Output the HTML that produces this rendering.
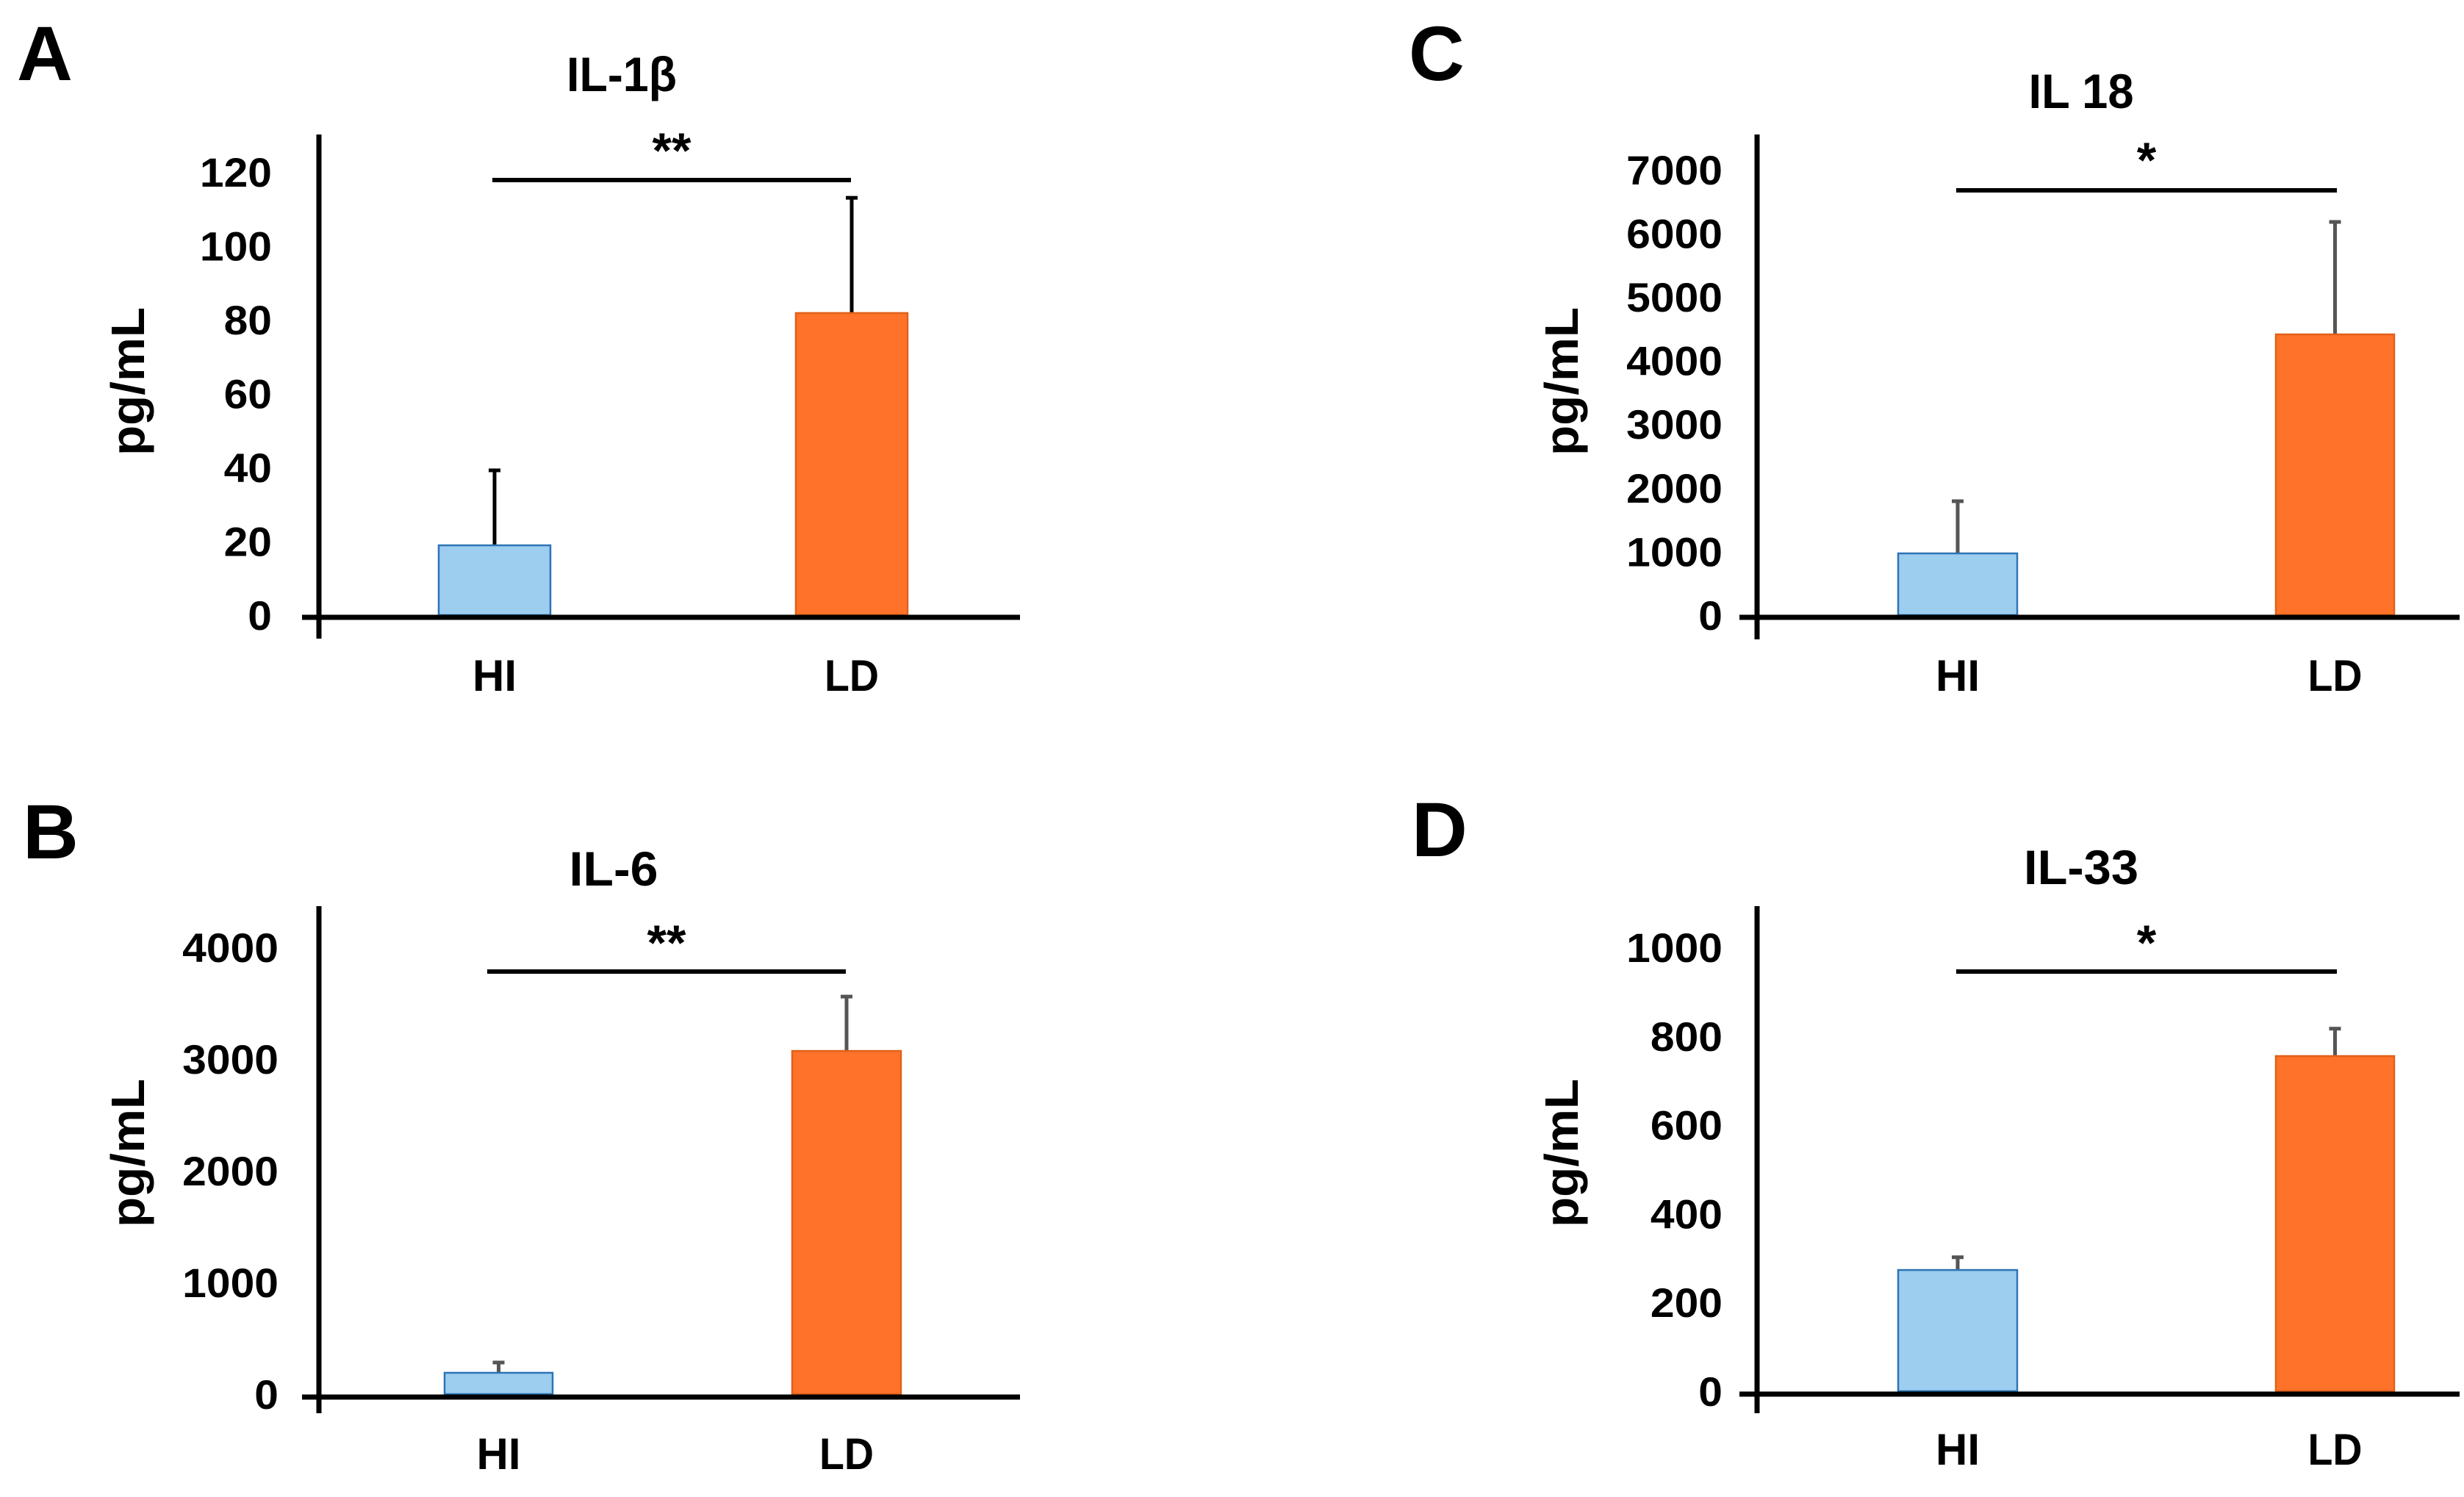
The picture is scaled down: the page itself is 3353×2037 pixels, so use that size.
<!DOCTYPE html>
<html><head><meta charset="utf-8"><style>
html,body{margin:0;padding:0;background:#fff;}
svg{display:block;font-family:"Liberation Sans",Arial,sans-serif;font-weight:bold;}
</style></head>
<body>
<svg id="fig" width="3353" height="2037" viewBox="0 0 3353 2037" xmlns="http://www.w3.org/2000/svg"></svg>
<script>
const categories = ["HI", "LD"];
const il1bValues = [18.9, 81.8];
const il1bErrors = [20.7, 31.6];
const il1bTicks = [0, 20, 40, 60, 80, 100, 120];
const il6Values = [191, 3072];
const il6Errors = [105, 500];
const il6Ticks = [0, 1000, 2000, 3000, 4000];
const il18Values = [970, 4411];
const il18Errors = [843, 1790];
const il18Ticks = [0, 1000, 2000, 3000, 4000, 5000, 6000, 7000];
const il33Values = [273, 755];
const il33Errors = [32, 65];
const il33Ticks = [0, 200, 400, 600, 800, 1000];

const NS = "http://www.w3.org/2000/svg";
const svg = document.getElementById("fig");
function mk(tag, attrs, parent, text){
  const e = document.createElementNS(NS, tag);
  for (const k in attrs) e.setAttribute(k, attrs[k]);
  if (text !== undefined) e.textContent = text;
  (parent || svg).appendChild(e);
  return e;
}

const panels = [
  {id:"a", letter:"A", title:"IL-1β", titleLen:150, letterX:23, letterY:109,
   vals:il1bValues, errs:il1bErrors, ticks:il1bTicks, step:20, pxStep:100.5,
   yAxisX:434, yTop:183, yBot:869, xAxisY:840, xStart:411, xEnd:1388, base:837,
   labelRight:370, bars:[[597,749],[1083,1235]], sig:[670,1158,245], stars:"**", starY:228,
   titleX:846, titleY:124, yLabelX:174, yLabelY:519, catY:940, errColor:"#000"},
  {id:"b", letter:"B", title:"IL-6", titleLen:121, letterX:31, letterY:1168,
   vals:il6Values, errs:il6Errors, ticks:il6Ticks, step:1000, pxStep:152,
   yAxisX:434, yTop:1233, yBot:1923, xAxisY:1901, xStart:411, xEnd:1388, base:1897,
   labelRight:379, bars:[[605,752],[1078,1226]], sig:[663,1151,1322], stars:"**", starY:1306,
   titleX:835, titleY:1205, yLabelX:174, yLabelY:1569, catY:1999, errColor:"#555"},
  {id:"c", letter:"C", title:"IL 18", titleLen:143, letterX:1917, letterY:109,
   vals:il18Values, errs:il18Errors, ticks:il18Ticks, step:1000, pxStep:86.6,
   yAxisX:2391, yTop:183, yBot:870, xAxisY:840, xStart:2367, xEnd:3347, base:837,
   labelRight:2344, bars:[[2583,2745],[3097,3258]], sig:[2662,3180,259], stars:"*", starY:241,
   titleX:2832, titleY:147, yLabelX:2125, yLabelY:519, catY:940, errColor:"#555"},
  {id:"d", letter:"D", title:"IL-33", titleLen:156, letterX:1921, letterY:1165,
   vals:il33Values, errs:il33Errors, ticks:il33Ticks, step:200, pxStep:120.8,
   yAxisX:2391, yTop:1233, yBot:1923, xAxisY:1897, xStart:2367, xEnd:3347, base:1893,
   labelRight:2344, bars:[[2583,2745],[3097,3258]], sig:[2662,3180,1322], stars:"*", starY:1306,
   titleX:2832, titleY:1203, yLabelX:2125, yLabelY:1569, catY:1993, errColor:"#555"}
];

const fills = ["#9DCDEF", "#FF7229"];
const strokes = ["#2E74B5", "#E0601A"];

panels.forEach(p => {
  const g = mk("g", {});
  
  
  const y = v => p.base - v / p.step * p.pxStep;

  const L = mk("text", {x:p.letterX, y:p.letterY, "font-size":105}, g, p.letter);
  
  

  const T = mk("text", {x:p.titleX, y:p.titleY, "font-size":66, "text-anchor":"middle", textLength:p.titleLen, lengthAdjust:"spacingAndGlyphs"}, g, p.title);
  
  

  const YL = mk("text", {x:0, y:0, "font-size":64, "text-anchor":"middle", textLength:202, lengthAdjust:"spacingAndGlyphs",
    transform:`translate(${p.yLabelX + 22},${p.yLabelY}) rotate(-90)`}, g, "pg/mL");
  
  

  p.ticks.forEach(t => {
    const s = String(t);
    const tx = mk("text", {x:p.labelRight, y:y(t) + 20, "font-size":56, "text-anchor":"end", textLength:s.length * 32.7, lengthAdjust:"spacingAndGlyphs"}, g, s);
    
    
  });

  p.vals.forEach((v, i) => {
    const [x0, x1] = p.bars[i];
    const cx = (x0 + x1) / 2;
    const top = y(v);
    const eTop = y(v + p.errs[i]);
    const eb = mk("line", {x1:cx, x2:cx, y1:top, y2:eTop, stroke:p.errColor, "stroke-width":5}, g);
    
    
    const cap = mk("line", {x1:cx - 8, x2:cx + 8, y1:eTop + 2, y2:eTop + 2, stroke:p.errColor, "stroke-width":5}, g);
    
    
    const r = mk("rect", {x:x0, y:top, width:x1 - x0, height:p.base - top, fill:fills[i], stroke:strokes[i], "stroke-width":2.5}, g);
    
    
    const c = mk("text", {x:cx, y:p.catY, "font-size":60, "text-anchor":"middle", textLength:(i === 0 ? 60 : 74), lengthAdjust:"spacingAndGlyphs"}, g, categories[i]);
    
    
  });

  const ya = mk("line", {x1:p.yAxisX, x2:p.yAxisX, y1:p.yTop, y2:p.yBot, stroke:"#000", "stroke-width":7}, g);
  
  
  const xa = mk("line", {x1:p.xStart, x2:p.xEnd, y1:p.xAxisY, y2:p.xAxisY, stroke:"#000", "stroke-width":7}, g);
  
  

  const sl = mk("line", {x1:p.sig[0], x2:p.sig[1], y1:p.sig[2], y2:p.sig[2], stroke:"#000", "stroke-width":6}, g);
  
  
  const st = mk("text", {x:(p.sig[0] + p.sig[1]) / 2, y:p.starY, "font-size":68, "text-anchor":"middle"}, g, p.stars);
  
  
});
</script>
</body></html>
